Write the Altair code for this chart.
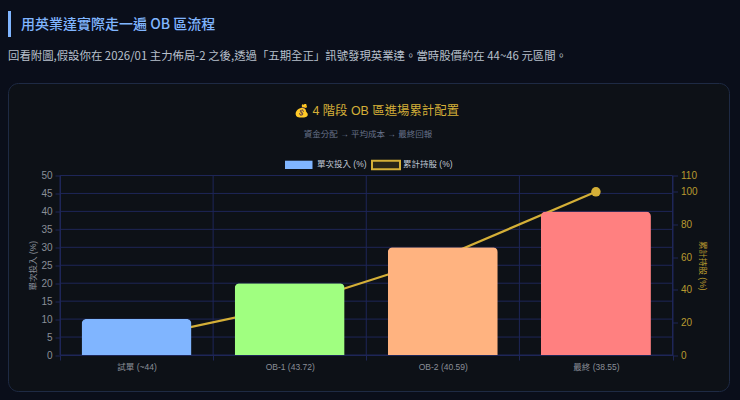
import altair as alt
import pandas as pd

categories = ["試單 (~44)", "OB-1 (43.72)", "OB-2 (40.59)", "最終 (38.55)"]
single = [10, 20, 30, 40]
cumulative = [10, 30, 60, 100]
bar_colors = ["#80b5ff", "#a0ff80", "#ffb380", "#ff8080"]
left_ticks = list(range(0, 55, 5))
right_ticks = [0, 20, 40, 60, 80, 100, 110]

PAGE = "#0a0e1a"
CARD = "#0d1117"
GRID = "#1e2658"
GOLD = "#d4af37"
LABEL = "#8a8f98"
FONT = "Liberation Sans, Noto Sans CJK TC, sans-serif"
CJK_FIRST = "Noto Sans CJK TC, Liberation Sans, sans-serif"

PAD_L, PAD_T = 52, 167.5
W, H = 612.5, 179.5

def px(X):
    return X - 8 - PAD_L

def py(Y):
    return Y - 8 - PAD_T

one = alt.Data(values=[{"a": 1}])

def rect(x0, y0, x1, y1, **kw):
    return alt.Chart(one).mark_rect(**kw).encode(
        x=alt.value(px(x0)), x2=alt.value(px(x1)),
        y=alt.value(py(y0)), y2=alt.value(py(y1)))

def text(s, X, Y, font=FONT, **kw):
    return alt.Chart(alt.Data(values=[{"t": s}])).mark_text(font=font, baseline="middle", **kw).encode(
        x=alt.value(px(X)), y=alt.value(py(Y)), text="t:N")

df = pd.DataFrame({"cat": categories, "single": single, "cum": cumulative, "color": bar_colors})
x_scale = alt.Scale(domain=categories, paddingInner=0, paddingOuter=0)
yl = alt.Scale(domain=[0, 50], nice=False)
yr = alt.Scale(domain=[0, 110], nice=False)

x_axis = alt.Axis(
    title=None, labelAngle=0, labelColor=LABEL, labelFont=FONT, labelFontSize=8.5, tickBand="extent",
    domain=True, domainColor=GRID, tickColor=GRID, tickSize=5, grid=False, zindex=1, labelPadding=2)

card = rect(8.5, 83.5, 729.5, 391.5, fill=CARD, stroke="#1e2a44", strokeWidth=1, cornerRadius=10)
accent = rect(8, 11, 11, 37, fill="#80b5ff")

texts = [
    text("用英業達實際走一遍 OB 區流程", 21, 24.5, font=CJK_FIRST, fontSize=14, fontWeight=500, align="left", color="#80b5ff"),
    text("回看附圖,假設你在 2026/01 主力佈局-2 之後,透過「五期全正」訊號發現英業達。當時股價約在 44~46 元區間。", 8, 57, font=CJK_FIRST, fontSize=11.4, align="left", color="#b8c0cc"),
    text("💰 4 階段 OB 區進場累計配置", 376.5, 111, fontSize=12.4, align="center", color=GOLD),
    text("資金分配 → 平均成本 → 最終回報", 368, 134, fontSize=8.5, align="center", color="#67728a"),
    text("單次投入 (%)", 317, 164, fontSize=8.5, align="left", color="#c0c8d4"),
    text("累計持股 (%)", 403, 164, fontSize=8.5, align="left", color="#c0c8d4"),
]
legend_a = rect(285, 160.7, 312.5, 169, fill="#80b5ff")
legend_b = rect(372, 160.7, 400, 169.2, fill="#2a2618", stroke=GOLD, strokeWidth=2)

grid_h = alt.Chart(pd.DataFrame({"v": left_ticks})).mark_rule(color=GRID, strokeWidth=1).encode(
    y=alt.Y("v:Q", scale=yl, axis=None))
grid_v = alt.Chart(df).mark_rule(color=GRID, strokeWidth=1).encode(
    x=alt.X("cat:N", scale=x_scale, bandPosition=0, axis=x_axis))
grid_end = alt.Chart(df.tail(1)).mark_rule(color=GRID, strokeWidth=1).encode(
    x=alt.X("cat:N", scale=x_scale, bandPosition=1, axis=x_axis))

line = alt.Chart(df).mark_line(color=GOLD, strokeWidth=2.2).encode(
    x=alt.X("cat:N", scale=x_scale, axis=x_axis),
    y=alt.Y("cum:Q", scale=yr, axis=alt.Axis(
        orient="right", values=right_ticks, title="累計持股 (%)", titleColor="#b8992f", titleFont=FONT,
        titleFontSize=8.5, titleFontWeight="normal", titlePadding=0, labelColor="#b8992f", labelFont=FONT, labelFontSize=10,
        domain=True, domainColor=GRID, tickColor=GRID, tickSize=5, grid=False, zindex=1, labelPadding=3)))
points = alt.Chart(df).mark_point(filled=True, color=GOLD, size=90, opacity=1).encode(
    x=alt.X("cat:N", scale=x_scale, axis=x_axis),
    y=alt.Y("cum:Q", scale=yr, axis=None))
bars = alt.Chart(df).mark_bar(size=110, cornerRadiusTopLeft=5, cornerRadiusTopRight=5).encode(
    x=alt.X("cat:N", scale=x_scale, sort=categories, axis=x_axis),
    y=alt.Y("single:Q", scale=yl, axis=alt.Axis(
        orient="left", values=left_ticks, title="單次投入 (%)", titleColor=LABEL, titleFont=FONT,
        titleFontSize=8.5, titleFontWeight="normal", titlePadding=3, labelColor=LABEL, labelFont=FONT, labelFontSize=10,
        domain=True, domainColor=GRID, tickColor=GRID, tickSize=5, grid=False, zindex=1, labelPadding=3)),
    color=alt.Color("color:N", scale=None, legend=None))

chart = alt.layer(
    card, accent, *texts, legend_a, legend_b, grid_h, grid_v, grid_end, line, points, bars
).resolve_scale(y="independent").properties(
    width=W, height=H, background=PAGE,
    autosize=alt.AutoSizeParams(type="none"),
    padding={"left": PAD_L, "top": PAD_T, "right": 724 - PAD_L - W, "bottom": 384 - PAD_T - H},
).configure_view(stroke=None)

chart.save("out.html", embed_options={
    "renderer": "svg", "actions": False,
    "defaultStyle": "html,body{background:#0a0e1a}",
})
